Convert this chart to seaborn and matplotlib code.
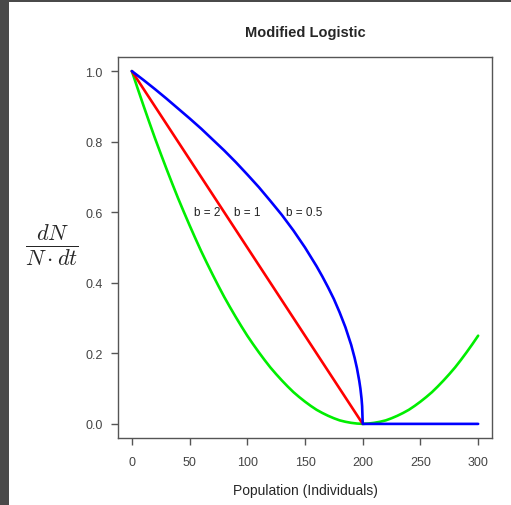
import matplotlib
matplotlib.use("Agg")
import matplotlib.pyplot as plt
import seaborn as sns

# Data
n_green = [0, 5, 10, 15, 20, 25, 30, 35, 40, 45, 50, 55, 60, 65, 70, 75, 80, 85, 90,
           95, 100, 105, 110, 115, 120, 125, 130, 135, 140, 145, 150, 155, 160, 165,
           170, 175, 180, 185, 190, 195, 200, 205, 210, 215, 220, 225, 230, 235, 240,
           245, 250, 255, 260, 265, 270, 275, 280, 285, 290, 295, 300]
green_b2 = [1.0, 0.951, 0.903, 0.856, 0.81, 0.766, 0.723, 0.681, 0.64, 0.601, 0.563,
            0.526, 0.49, 0.456, 0.423, 0.391, 0.36, 0.331, 0.303, 0.276, 0.25, 0.226,
            0.203, 0.181, 0.16, 0.141, 0.123, 0.106, 0.09, 0.076, 0.063, 0.051, 0.04,
            0.031, 0.023, 0.016, 0.01, 0.006, 0.003, 0.001, 0.0, 0.001, 0.003, 0.006,
            0.01, 0.016, 0.023, 0.031, 0.04, 0.051, 0.063, 0.076, 0.09, 0.106, 0.123,
            0.141, 0.16, 0.181, 0.203, 0.226, 0.25]
n_red = [0, 10, 20, 30, 40, 50, 60, 70, 80, 90, 100, 110, 120, 130, 140, 150,
         160, 170, 180, 190, 200]
red_b1 = [1.0, 0.95, 0.90, 0.85, 0.80, 0.75, 0.70, 0.65, 0.60, 0.55, 0.50, 0.45,
          0.40, 0.35, 0.30, 0.25, 0.20, 0.15, 0.10, 0.05, 0.0]
n_blue = [0, 10, 20, 30, 40, 50, 60, 70, 80, 90, 100, 110, 120, 130, 140, 150,
          160, 165, 170, 175, 180, 185, 190, 193, 195, 197, 198, 199, 199.5, 200,
          210, 220, 240, 260, 280, 300]
blue_b05 = [1.0, 0.975, 0.949, 0.922, 0.894, 0.866, 0.837, 0.806, 0.775, 0.742,
            0.707, 0.671, 0.632, 0.592, 0.548, 0.5, 0.447, 0.418, 0.387, 0.354,
            0.316, 0.274, 0.224, 0.187, 0.158, 0.122, 0.10, 0.071, 0.05, 0.0,
            0.0, 0.0, 0.0, 0.0, 0.0, 0.0]
labels = ["b = 2", "b = 1", "b = 0.5"]
label_x = [65, 100, 149]
label_y = 0.6
x_ticks = [0, 50, 100, 150, 200, 250, 300]
y_ticks = [0.0, 0.2, 0.4, 0.6, 0.8, 1.0]

sns.set_style("white")
plt.rcParams["font.family"] = ["Liberation Sans", "DejaVu Sans"]
plt.rcParams["mathtext.fontset"] = "cm"

fig = plt.figure(figsize=(5.11, 5.06), dpi=100)
fig.patch.set_facecolor("white")
# dark frame strips (left and top)
fig.patches.append(plt.Rectangle((0, 0), 9 / 511, 1, transform=fig.transFigure,
                                 facecolor="#4a4a4a", edgecolor="none", zorder=0))
fig.patches.append(plt.Rectangle((0, 1 - 3 / 506), 1, 3 / 506, transform=fig.transFigure,
                                 facecolor="#4a4a4a", edgecolor="none", zorder=0))

ax = fig.add_axes([118 / 511, 1 - 439 / 506, (492 - 118) / 511, (439 - 58) / 506])

lw = 1.9
sns.lineplot(x=n_green, y=green_b2, color="#00ee00", lw=lw, ax=ax, sort=False)
sns.lineplot(x=n_red, y=red_b1, color="#ff0000", lw=lw, ax=ax, sort=False)
sns.lineplot(x=n_blue, y=blue_b05, color="#0000ff", lw=lw, ax=ax, sort=False)

for t, xx in zip(labels, label_x):
    ax.text(xx, label_y, t, ha="center", va="center", fontsize=8.5, color="#222222")

ax.set_xlim(-12, 312)
ax.set_ylim(-0.04, 1.04)
ax.set_xticks(x_ticks)
ax.set_yticks(y_ticks)
ax.set_xticklabels([str(v) for v in x_ticks])
ax.set_yticklabels([f"{v:.1f}" for v in y_ticks])
for s in ax.spines.values():
    s.set_color("#555555")
    s.set_linewidth(1.0)
ax.tick_params(axis="both", direction="out", length=5, width=1.0, color="#555555",
               labelsize=9, labelcolor="#444444", bottom=True, left=True)
ax.tick_params(axis="x", pad=8)
ax.tick_params(axis="y", pad=6)

ax.set_title("Modified Logistic", fontsize=10.5, fontweight="bold", pad=15)
ax.set_xlabel("Population (Individuals)", fontsize=10, labelpad=11)
ax.set_ylabel("")
fig.text(52 / 511, 1 - 245 / 506, r"$\frac{dN}{N \cdot dt}$", fontsize=23,
         ha="center", va="center")

fig.savefig("out.png", dpi=100, facecolor="white")
